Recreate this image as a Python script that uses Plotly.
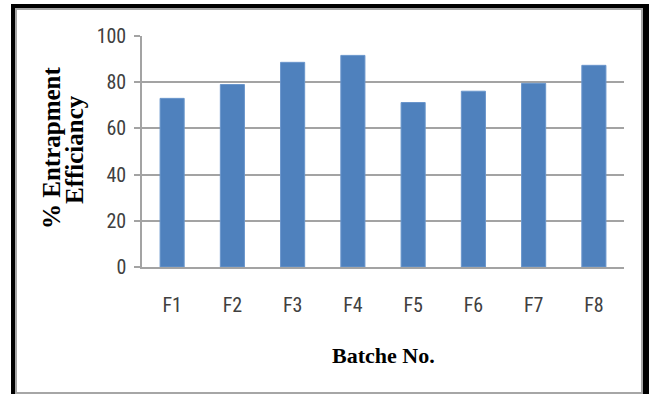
import plotly.graph_objects as go

# Entrapment efficiency per formulation batch
batches = ["F1", "F2", "F3", "F4", "F5", "F6", "F7", "F8"]
efficiency = [73, 79, 88.6, 91.6, 71.2, 76.1, 79.5, 87.3]
y_ticks = [0, 20, 40, 60, 80, 100]

W, H = 649, 394
M_L, M_R, M_T, M_B = 142, 25, 36, 127
PW, PH = W - M_L - M_R, H - M_T - M_B


def px_x(px):
    return (px - M_L) / PW


def px_y(py):
    return (H - M_B - py) / PH


GRID = "#a3a3a3"
TICK_FONT = dict(family="Liberation Sans Narrow, Arial Narrow, Roboto Condensed, sans-serif",
                 size=20, color="#404040")
TITLE_FONT = "Liberation Serif, Times New Roman, serif"

fig = go.Figure(
    go.Bar(
        x=batches,
        y=efficiency,
        marker=dict(color="#4f81bd", line=dict(color="#6a96cc", width=1)),
        width=0.4,
    )
)

fig.update_layout(
    width=W,
    height=H,
    margin=dict(l=M_L, r=M_R, t=M_T, b=M_B),
    paper_bgcolor="white",
    plot_bgcolor="white",
    showlegend=False,
    xaxis=dict(
        showgrid=False,
        showline=True,
        linecolor=GRID,
        linewidth=1.5,
        ticks="",
        tickfont=TICK_FONT,
        ticklabelstandoff=19,
    ),
    yaxis=dict(
        range=[0, 100],
        tickvals=y_ticks,
        showgrid=True,
        gridcolor=GRID,
        gridwidth=1.5,
        zeroline=False,
        showline=True,
        linecolor=GRID,
        linewidth=1.5,
        ticks="outside",
        ticklen=6,
        tickcolor=GRID,
        tickwidth=1.5,
        tickfont=TICK_FONT,
        ticklabelstandoff=4,
    ),
)

# Axis titles
fig.add_annotation(
    x=px_x(51), y=px_y(148), xref="paper", yref="paper",
    text="<b>% Entrapment</b>", textangle=-90, showarrow=False,
    xanchor="center", yanchor="middle",
    font=dict(family=TITLE_FONT, size=25, color="black"),
)
fig.add_annotation(
    x=px_x(74), y=px_y(150), xref="paper", yref="paper",
    text="<b>Efficiancy</b>", textangle=-90, showarrow=False,
    xanchor="center", yanchor="middle",
    font=dict(family=TITLE_FONT, size=25, color="black"),
)
fig.add_annotation(
    x=px_x(383.5), y=px_y(355), xref="paper", yref="paper",
    text="<b>Batche No.</b>", showarrow=False,
    xanchor="center", yanchor="middle",
    font=dict(family=TITLE_FONT, size=22, color="black"),
)

# Frame around the chart: black outer edge (left, top, right) and thin gray inner border
frame = [
    dict(x0=11, x1=15, y0=4, y1=394, color="black"),
    dict(x0=11, x1=649, y0=4, y1=8, color="black"),
    dict(x0=643, x1=649, y0=4, y1=394, color="black"),
]
for f in frame:
    fig.add_shape(
        type="rect", xref="paper", yref="paper",
        x0=px_x(f["x0"]), x1=px_x(f["x1"]), y0=px_y(f["y1"]), y1=px_y(f["y0"]),
        fillcolor=f["color"], line=dict(width=0), layer="above",
    )
fig.add_shape(
    type="rect", xref="paper", yref="paper",
    x0=px_x(16), x1=px_x(642), y0=px_y(393), y1=px_y(9),
    fillcolor="rgba(0,0,0,0)", line=dict(color="#a6a6a6", width=2), layer="above",
)

fig.write_html("out.html")
